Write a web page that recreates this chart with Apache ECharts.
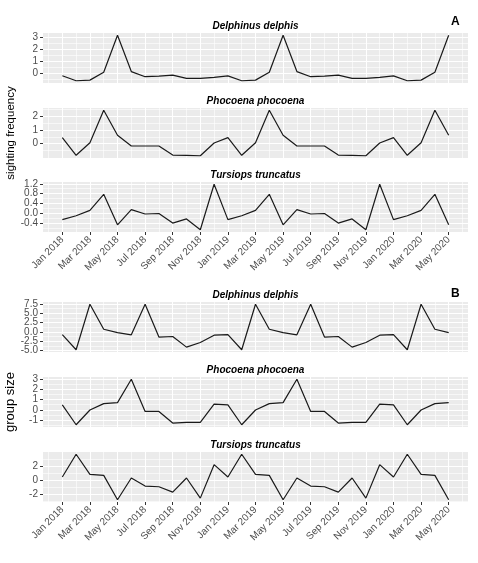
<!DOCTYPE html>
<html>
<head>
<meta charset="utf-8">
<script src="https://cdn.jsdelivr.net/npm/echarts@6/dist/echarts.min.js"></script>
<style>
html,body{margin:0;padding:0;background:#fff;}
#chart{width:478px;height:563px;}
</style>
</head>
<body>
<div id="chart"></div>
<script>
// x positions: month index from Jan 2018 (0) to May 2020 (28)
var monthIndex = [0,1,2,3,4,5,6,7,8,9,10,11,12,13,14,15,16,17,18,19,20,21,22,23,24,25,26,27,28];
var tickIndex = [0,2,4,6,8,10,12,14,16,18,20,22,24,26,28];
var tickLabels = ['Jan 2018','Mar 2018','May 2018','Jul 2018','Sep 2018','Nov 2018','Jan 2019','Mar 2019','May 2019','Jul 2019','Sep 2019','Nov 2019','Jan 2020','Mar 2020','May 2020'];

var speciesNames = ['Delphinus delphis','Phocoena phocoena','Tursiops truncatus'];

// A: sighting frequency
var freqDelphinus = [-0.19,-0.6,-0.55,0.1,3.13,0.15,-0.27,-0.22,-0.14,-0.41,-0.41,-0.33,-0.2,-0.6,-0.55,0.1,3.13,0.15,-0.27,-0.22,-0.14,-0.41,-0.41,-0.33,-0.2,-0.6,-0.55,0.1,3.13];
var freqPhocoena = [0.44,-0.85,0.07,2.44,0.61,-0.17,-0.17,-0.17,-0.83,-0.85,-0.88,0.05,0.44,-0.85,0.07,2.44,0.61,-0.17,-0.17,-0.17,-0.83,-0.85,-0.88,0.05,0.44,-0.85,0.07,2.44,0.61];
var freqTursiops = [-0.26,-0.1,0.12,0.77,-0.47,0.15,-0.03,-0.01,-0.4,-0.23,-0.67,1.18,-0.26,-0.1,0.12,0.77,-0.47,0.15,-0.03,-0.01,-0.4,-0.23,-0.67,1.18,-0.26,-0.1,0.12,0.77,-0.47];

// B: group size
var sizeDelphinus = [-0.75,-4.8,7.4,0.7,-0.2,-0.8,7.4,-1.4,-1.25,-4.1,-2.85,-0.9,-0.75,-4.8,7.4,0.7,-0.2,-0.8,7.4,-1.4,-1.25,-4.1,-2.85,-0.9,-0.75,-4.8,7.4,0.7,-0.2];
var sizePhocoena = [0.48,-1.45,-0.02,0.6,0.7,2.97,-0.16,-0.16,-1.29,-1.22,-1.22,0.55,0.48,-1.45,-0.02,0.6,0.7,2.97,-0.16,-0.16,-1.29,-1.22,-1.22,0.55,0.48,-1.45,-0.02,0.6,0.7];
var sizeTursiops = [0.43,3.67,0.81,0.67,-2.8,0.29,-0.86,-0.95,-1.71,0.29,-2.57,2.19,0.43,3.67,0.81,0.67,-2.8,0.29,-0.86,-0.95,-1.71,0.29,-2.57,2.19,0.43,3.67,0.81,0.67,-2.8];

// y tick labels per panel
var yTicksFreqDelphinus = [0,1,2,3];
var yTicksFreqPhocoena = [0,1,2];
var yTicksFreqTursiops = [-0.4,0,0.4,0.8,1.2];
var yTicksSizeDelphinus = [-5,-2.5,0,2.5,5,7.5];
var yTicksSizePhocoena = [-1,0,1,2,3];
var yTicksSizeTursiops = [-2,0,2];

var panels = [
  {title: speciesNames[0], data: freqDelphinus, ticks: yTicksFreqDelphinus, dec: 0, top: 33, bottomAxis: false},
  {title: speciesNames[1], data: freqPhocoena, ticks: yTicksFreqPhocoena, dec: 0, top: 108, bottomAxis: false, yName: 'sighting frequency', yNameSize: 11.5},
  {title: speciesNames[2], data: freqTursiops, ticks: yTicksFreqTursiops, dec: 1, top: 182, bottomAxis: true},
  {title: speciesNames[0], data: sizeDelphinus, ticks: yTicksSizeDelphinus, dec: 1, top: 302, bottomAxis: false},
  {title: speciesNames[1], data: sizePhocoena, ticks: yTicksSizePhocoena, dec: 0, top: 377, bottomAxis: false, yName: 'group size', yNameSize: 13},
  {title: speciesNames[2], data: sizeTursiops, ticks: yTicksSizeTursiops, dec: 0, top: 452, bottomAxis: true}
];

var FONT = 'Arial, "Liberation Sans", Helvetica, sans-serif';
var GRID_L = 43, GRID_R = 10, GRID_H = 50;
var xMin = monthIndex[0] - 0.05 * (monthIndex[monthIndex.length-1] - monthIndex[0]);
var xMax = monthIndex[monthIndex.length-1] + 0.05 * (monthIndex[monthIndex.length-1] - monthIndex[0]);
var xMinor = [];
for (var m = -1; m <= 29; m += 2) { if (m >= xMin && m <= xMax) xMinor.push(m); }

var grids = [], xAxes = [], yAxes = [], series = [], titles = [];

panels.forEach(function (p, i) {
  var dmin = Math.min.apply(null, p.data), dmax = Math.max.apply(null, p.data);
  var r = dmax - dmin;
  var ymin = dmin - 0.05 * r, ymax = dmax + 0.05 * r;
  var step = p.ticks[1] - p.ticks[0];
  var yMinor = [];
  for (var k = -1; k < p.ticks.length; k++) {
    var v = p.ticks[0] + step * k + step / 2;
    if (v >= ymin && v <= ymax) yMinor.push(+v.toFixed(6));
  }
  // split major ticks into two sets so neighbouring labels are never auto-hidden
  var setA = p.ticks.filter(function (t, j) { return j % 2 === 0; });
  var setB = p.ticks.filter(function (t, j) { return j % 2 === 1; });

  grids.push({left: GRID_L, right: GRID_R, top: p.top, height: GRID_H, show: true,
    backgroundColor: '#EBEBEB', borderWidth: 0, containLabel: false, outerBoundsMode: 'none'});

  // major x axis
  xAxes.push({type: 'value', gridIndex: i, min: xMin, max: xMax, position: 'bottom',
    axisLine: {show: false, onZero: false},
    axisTick: {show: p.bottomAxis, length: 3, lineStyle: {color: '#333', width: 1}, customValues: tickIndex},
    axisLabel: {show: p.bottomAxis, customValues: tickIndex, rotate: 45, margin: 6, fontSize: 10, color: '#4D4D4D', fontFamily: FONT,
      hideOverlap: false, showMinLabel: true, showMaxLabel: true,
      formatter: function (val) { var j = tickIndex.indexOf(Math.round(val)); return j >= 0 ? tickLabels[j] : ''; }},
    splitLine: {show: true, lineStyle: {color: '#FFFFFF', width: 1.1}}
  });
  // minor x axis
  xAxes.push({type: 'value', gridIndex: i, min: xMin, max: xMax, position: 'bottom',
    axisLine: {show: false, onZero: false}, axisTick: {show: false, customValues: xMinor}, axisLabel: {show: false, customValues: xMinor},
    splitLine: {show: true, lineStyle: {color: '#FFFFFF', width: 0.6}}
  });

  function majorY(vals, withName) {
    var ya = {type: 'value', gridIndex: i, min: ymin, max: ymax, position: 'left', offset: 0,
      axisLine: {show: false, onZero: false},
      axisTick: {show: vals.length > 0, length: 3, lineStyle: {color: '#333', width: 1}, customValues: vals},
      axisLabel: {show: vals.length > 0, customValues: vals, margin: 5, fontSize: 10, color: '#4D4D4D', fontFamily: FONT,
        hideOverlap: false, showMinLabel: true, showMaxLabel: true,
        formatter: (function (d) { return function (val) { return (+val).toFixed(d); }; })(p.dec)},
      splitLine: {show: vals.length > 0, lineStyle: {color: '#FFFFFF', width: 1.1}}
    };
    if (withName && p.yName) {
      ya.name = p.yName; ya.nameLocation = 'middle'; ya.nameGap = 26;
      ya.nameTextStyle = {fontSize: p.yNameSize, color: '#000', fontFamily: FONT};
    }
    return ya;
  }
  yAxes.push(majorY(setA, true));   // index 3i
  yAxes.push(majorY(setB, false));  // index 3i+1
  // minor y axis
  yAxes.push({type: 'value', gridIndex: i, min: ymin, max: ymax, position: 'left', offset: 0,
    axisLine: {show: false, onZero: false}, axisTick: {show: false, customValues: yMinor}, axisLabel: {show: false, customValues: yMinor},
    splitLine: {show: true, lineStyle: {color: '#FFFFFF', width: 0.6}}
  });

  series.push({type: 'line', xAxisIndex: 2 * i, yAxisIndex: 3 * i,
    data: p.data.map(function (v, j) { return [monthIndex[j], v]; }),
    showSymbol: false, symbol: 'none', lineStyle: {color: '#1a1a1a', width: 1.2}, z: 5});

  titles.push({text: p.title, left: GRID_L + (478 - GRID_L - GRID_R) / 2, textAlign: 'center', top: p.top - 12, padding: 0,
    textStyle: {fontSize: 10, fontWeight: 'bold', fontStyle: 'italic', color: '#000', fontFamily: FONT}});
});

titles.push({text: 'A', left: 451, top: 16, padding: 0, textStyle: {fontSize: 12, fontWeight: 'bold', color: '#000', fontFamily: FONT}});
titles.push({text: 'B', left: 451, top: 288, padding: 0, textStyle: {fontSize: 12, fontWeight: 'bold', color: '#000', fontFamily: FONT}});

var chart = echarts.init(document.getElementById('chart'), null, {renderer: 'canvas'});
chart.setOption({
  animation: false,
  backgroundColor: '#FFFFFF',
  title: titles,
  grid: grids,
  xAxis: xAxes,
  yAxis: yAxes,
  series: series
});
</script>
</body>
</html>
